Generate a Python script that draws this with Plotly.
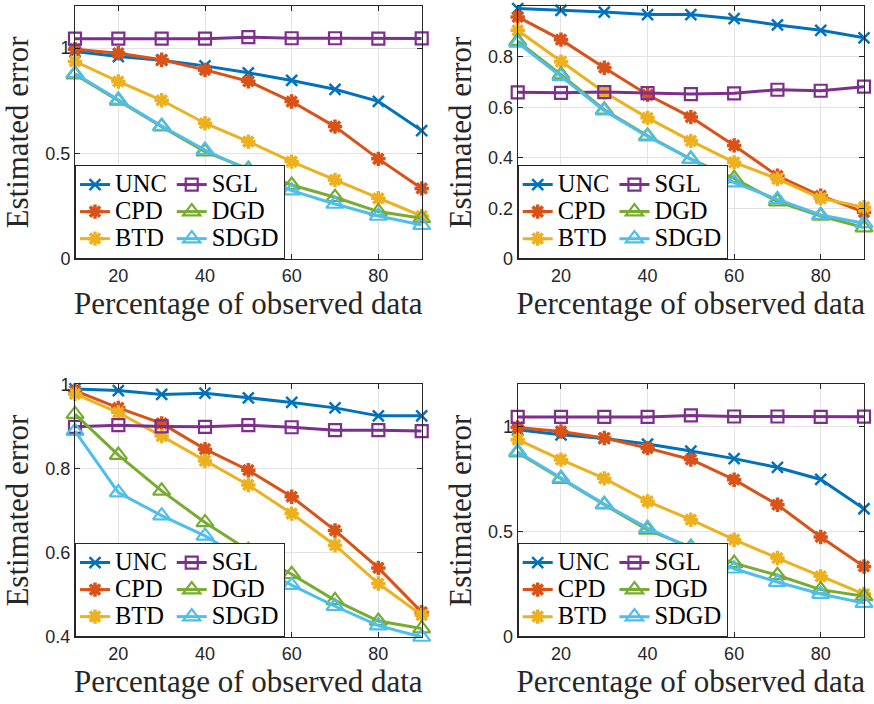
import plotly.graph_objects as go

# ---------------- data ----------------
x_pct = [10, 20, 30, 40, 50, 60, 70, 80, 90]
x_ticks = [20, 40, 60, 80]
methods = ["UNC", "CPD", "BTD", "SGL", "DGD", "SDGD"]

# top-left panel
tl_unc = [0.984, 0.960, 0.943, 0.916, 0.883, 0.847, 0.805, 0.748, 0.609]
tl_cpd = [0.995, 0.976, 0.945, 0.897, 0.843, 0.747, 0.628, 0.475, 0.335]
tl_btd = [0.937, 0.842, 0.753, 0.644, 0.557, 0.462, 0.375, 0.288, 0.204]
tl_sgl = [1.045, 1.045, 1.045, 1.045, 1.052, 1.047, 1.047, 1.045, 1.046]
tl_dgd = [0.875, 0.750, 0.628, 0.509, 0.427, 0.351, 0.293, 0.225, 0.193]
tl_sdgd = [0.880, 0.755, 0.631, 0.517, 0.422, 0.324, 0.261, 0.204, 0.161]

# top-right panel
tr_unc = [0.990, 0.983, 0.976, 0.966, 0.966, 0.950, 0.925, 0.904, 0.874]
tr_cpd = [0.957, 0.867, 0.756, 0.649, 0.561, 0.449, 0.329, 0.250, 0.185]
tr_btd = [0.904, 0.780, 0.659, 0.558, 0.467, 0.382, 0.317, 0.240, 0.205]
tr_sgl = [0.659, 0.657, 0.660, 0.656, 0.652, 0.655, 0.669, 0.665, 0.681]
tr_dgd = [0.861, 0.729, 0.590, 0.487, 0.395, 0.319, 0.227, 0.170, 0.124]
tr_sdgd = [0.854, 0.722, 0.586, 0.484, 0.395, 0.302, 0.236, 0.174, 0.141]

# bottom-left panel
bl_unc = [0.989, 0.985, 0.976, 0.979, 0.968, 0.957, 0.944, 0.925, 0.925]
bl_cpd = [0.985, 0.944, 0.907, 0.846, 0.796, 0.733, 0.653, 0.564, 0.459]
bl_btd = [0.977, 0.933, 0.877, 0.818, 0.761, 0.693, 0.618, 0.527, 0.452]
bl_sgl = [0.899, 0.903, 0.900, 0.899, 0.903, 0.898, 0.891, 0.891, 0.889]
bl_dgd = [0.929, 0.832, 0.747, 0.672, 0.606, 0.549, 0.487, 0.438, 0.420]
bl_sdgd = [0.889, 0.743, 0.688, 0.640, 0.578, 0.523, 0.473, 0.427, 0.400]

# bottom-right panel (same values as top-left in the picture)
br_unc = [0.984, 0.960, 0.943, 0.916, 0.883, 0.847, 0.805, 0.748, 0.609]
br_cpd = [0.995, 0.976, 0.945, 0.897, 0.843, 0.747, 0.628, 0.475, 0.335]
br_btd = [0.937, 0.842, 0.753, 0.644, 0.557, 0.462, 0.375, 0.288, 0.204]
br_sgl = [1.045, 1.045, 1.045, 1.045, 1.052, 1.047, 1.047, 1.045, 1.046]
br_dgd = [0.875, 0.750, 0.628, 0.509, 0.427, 0.351, 0.293, 0.225, 0.193]
br_sdgd = [0.880, 0.755, 0.631, 0.517, 0.422, 0.324, 0.261, 0.204, 0.161]

panels = [
    [tl_unc, tl_cpd, tl_btd, tl_sgl, tl_dgd, tl_sdgd],
    [tr_unc, tr_cpd, tr_btd, tr_sgl, tr_dgd, tr_sdgd],
    [bl_unc, bl_cpd, bl_btd, bl_sgl, bl_dgd, bl_sdgd],
    [br_unc, br_cpd, br_btd, br_sgl, br_dgd, br_sdgd],
]
y_ranges = [[0, 1.2], [0, 1.0], [0.4, 1.0], [0, 1.2]]
y_tickvals = [[0, 0.5, 1], [0, 0.2, 0.4, 0.6, 0.8, 1], [0.4, 0.6, 0.8, 1], [0, 0.5, 1]]

x_title = "Percentage of observed data"
y_title = "Estimated error"

# ---------------- style ----------------
colors = {"UNC": "#0072BD", "CPD": "#D95319", "BTD": "#EDB120",
          "SGL": "#7E2F8E", "DGD": "#77AC30", "SDGD": "#4DBEEE"}
symbols = {"UNC": "x-thin-open", "CPD": "asterisk-open", "BTD": "asterisk-open",
           "SGL": "square-open", "DGD": "triangle-up-open", "SDGD": "triangle-up-open"}
msize = {"UNC": 11, "CPD": 12, "BTD": 12, "SGL": 12, "DGD": 15, "SDGD": 15}
mline = {"UNC": 2.5, "CPD": 3.5, "BTD": 3.5, "SGL": 2.2, "DGD": 2.2, "SDGD": 2.2}
group_of = {"UNC": 0, "CPD": 0, "BTD": 0, "SGL": 1, "DGD": 1, "SDGD": 1}

W, H = 874, 704
ML, MR, MT, MB = 75, 10, 6, 67
dx = [[0.0, 0.4394], [0.5611, 1.0], [0.0, 0.4394], [0.5611, 1.0]]
dy = [[0.599, 1.0], [0.599, 1.0], [0.0, 0.4005], [0.0, 0.4005]]

serif = "Liberation Serif"
sans = "Liberation Sans"
axcol = "#262626"

fig = go.Figure()
for p in range(4):
    sfx = "" if p == 0 else str(p + 1)
    for m, vals in zip(methods, panels[p]):
        c = colors[m]
        fig.add_trace(go.Scatter(
            x=x_pct, y=vals, mode="lines+markers",
            name='<span style="font-size:24.5px">%s</span>' % m,
            xaxis="x" + sfx, yaxis="y" + sfx,
            legend="legend" + sfx,
            legendgroup="p%d_g%d" % (p, group_of[m]),
            line=dict(color=c, width=3),
            marker=dict(symbol=symbols[m], size=msize[m], color=c,
                        line=dict(color=c, width=mline[m])),
            cliponaxis=False,
        ))

layout = dict(
    width=W, height=H,
    margin=dict(l=ML, r=MR, t=MT, b=MB, autoexpand=False),
    paper_bgcolor="white", plot_bgcolor="white",
    showlegend=True,
)
for p in range(4):
    sfx = "" if p == 0 else str(p + 1)
    layout["xaxis" + sfx] = dict(
        domain=dx[p], anchor="y" + sfx, range=[10, 90], tickvals=x_ticks,
        showline=True, linecolor=axcol, linewidth=1, mirror="ticks",
        ticks="inside", ticklen=5, tickcolor=axcol, tickwidth=1,
        showgrid=True, gridcolor="#e3e3e3", gridwidth=1, zeroline=False,
        tickfont=dict(family=sans, size=18, color=axcol),
        title=dict(text=x_title, font=dict(family=serif, size=31, color=axcol), standoff=3),
    )
    layout["yaxis" + sfx] = dict(
        domain=dy[p], anchor="x" + sfx, range=y_ranges[p], tickvals=y_tickvals[p],
        showline=True, linecolor=axcol, linewidth=1, mirror="ticks",
        ticks="inside", ticklen=5, tickcolor=axcol, tickwidth=1,
        showgrid=True, gridcolor="#e3e3e3", gridwidth=1, zeroline=False,
        tickfont=dict(family=sans, size=18, color=axcol),
        title=dict(text=y_title, font=dict(family=serif, size=31, color=axcol), standoff=7),
    )
    layout["legend" + sfx] = dict(
        x=dx[p][0], y=dy[p][0], xanchor="left", yanchor="bottom",
        xref="paper", yref="paper",
        orientation="h", traceorder="grouped", tracegroupgap=0,
        bgcolor="white", bordercolor=axcol, borderwidth=1,
        font=dict(family=serif, size=18.5, color="black"),
    )
fig.update_layout(**layout)
fig.write_html("out.html")
